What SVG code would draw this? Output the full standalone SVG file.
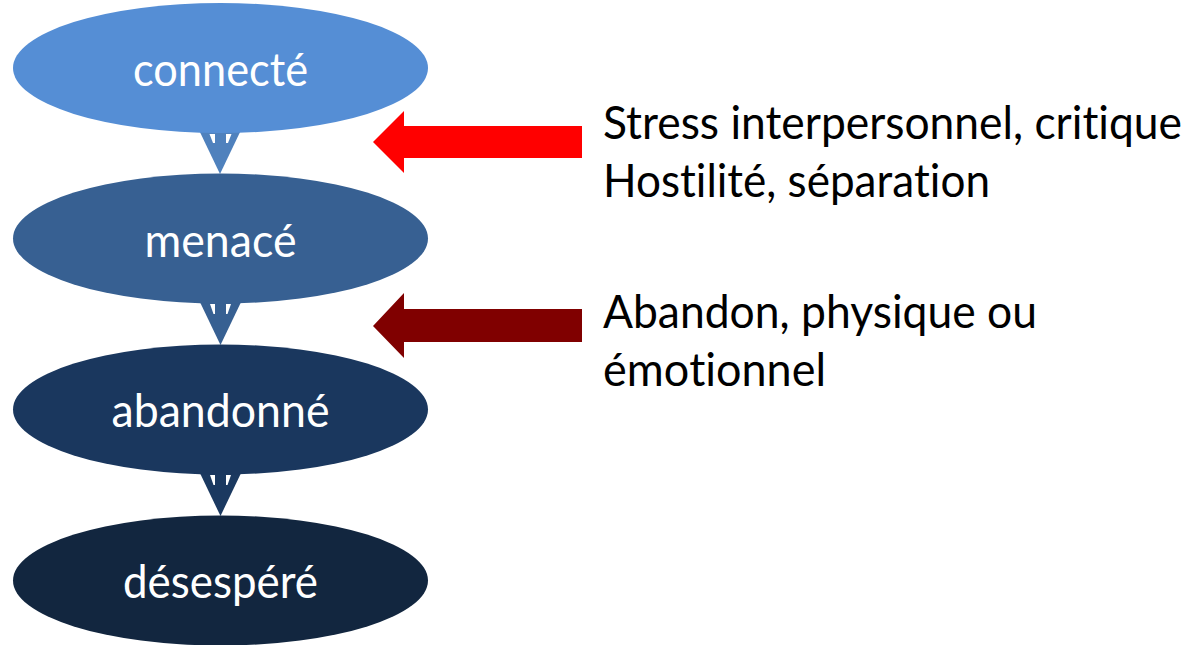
<svg xmlns="http://www.w3.org/2000/svg" width="1201" height="645" viewBox="0 0 1201 645">
<style>
.lbl{font-family:Lato,"Open Sans","Liberation Sans",sans-serif;font-size:47px;fill:#ffffff;text-anchor:middle;font-variant-ligatures:none}
.side{font-family:Lato,"Open Sans","Liberation Sans",sans-serif;font-size:47px;fill:#000000;font-variant-ligatures:none}
.b{font-size:47.02px}
.notch{fill:#ffffff}
</style>
<rect width="1201" height="645" fill="#ffffff"/>
<g id="connectors">
  <g id="chev1">
    <polygon points="198,128 242,128 220,174" fill="#4F81BD"/>
    <polygon class="notch" points="209.5,134 215,134 215,143 213,143"/>
    <polygon class="notch" points="226,134 231.5,134 228,143 226,143"/>
  </g>
  <g id="chev2">
    <polygon points="198,298 243,298 220.5,345" fill="#376092"/>
    <polygon class="notch" points="210,304 215,304 215,314 213.5,314"/>
    <polygon class="notch" points="226,304 231,304 227.5,314 226,314"/>
  </g>
  <g id="chev3">
    <polygon points="198,469 243,469 220.5,516" fill="#1B3960"/>
    <polygon class="notch" points="210,475 215,475 215,485 213.5,485"/>
    <polygon class="notch" points="226,475 231,475 227.5,485 226,485"/>
  </g>
  <g id="arrow-red">
    <polygon points="373,142 404,111 404,126 582,126 582,158 404,158 404,173" fill="#FF0000"/>
  </g>
  <g id="arrow-darkred">
    <polygon points="373,326 404,293 404,309 582,309 582,342 404,342 404,358" fill="#800000"/>
  </g>
</g>
<g id="node-connecte">
  <ellipse cx="220.5" cy="68" rx="207.5" ry="65" fill="#558ED5"/>
  <text class="lbl" x="220.5" y="86" textLength="175" lengthAdjust="spacingAndGlyphs">connecté</text>
</g>
<g id="node-menace">
  <ellipse cx="220.5" cy="238.5" rx="207.5" ry="65" fill="#376092"/>
  <text class="lbl" x="220.5" y="257" textLength="152" lengthAdjust="spacingAndGlyphs">menacé</text>
</g>
<g id="node-abandonne">
  <ellipse cx="220.5" cy="409.5" rx="207.5" ry="65" fill="#1A375E"/>
  <text class="lbl" x="220.5" y="427" textLength="218" lengthAdjust="spacingAndGlyphs">abandonné</text>
</g>
<g id="node-desespere">
  <ellipse cx="220.5" cy="580.5" rx="207.5" ry="65" fill="#12263F"/>
  <text class="lbl" x="220.5" y="598" textLength="195" lengthAdjust="spacingAndGlyphs">désespéré</text>
</g>
<g id="text-stress">
  <text class="side" x="603" y="139" textLength="579" lengthAdjust="spacingAndGlyphs">Stress interpersonnel, crit<tspan class="b">i</tspan>que</text>
  <text class="side" x="603" y="197" textLength="387" lengthAdjust="spacingAndGlyphs">Host<tspan class="b">i</tspan>lité, sépara<tspan class="b">t</tspan>ion</text>
</g>
<g id="text-abandon">
  <text class="side" x="603" y="328" textLength="434" lengthAdjust="spacingAndGlyphs">Abandon, physique ou</text>
  <text class="side" x="603" y="386" textLength="223" lengthAdjust="spacingAndGlyphs">émo<tspan class="b">t</tspan>ionnel</text>
</g>
</svg>
